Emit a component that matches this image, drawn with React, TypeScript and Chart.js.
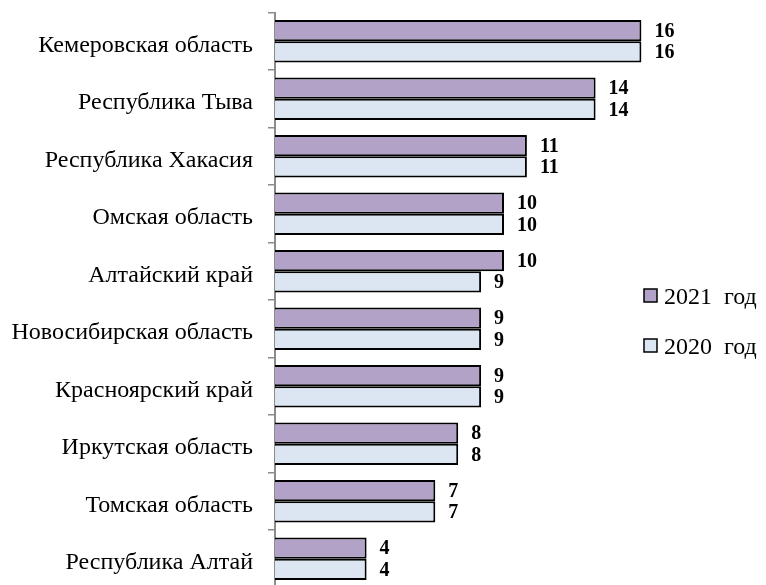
import React, { useEffect, useRef } from "react";
import { Chart, registerables } from "chart.js";

Chart.register(...registerables);

const categories = [
  "Кемеровская область",
  "Республика Тыва",
  "Республика Хакасия",
  "Омская область",
  "Алтайский край",
  "Новосибирская область",
  "Красноярский край",
  "Иркутская область",
  "Томская область",
  "Республика Алтай",
];
const values2021 = [16, 14, 11, 10, 10, 9, 9, 8, 7, 4];
const values2020 = [16, 14, 11, 10, 9, 9, 9, 8, 7, 4];
const seriesNames = ["2021  год", "2020  год"];
const seriesColors = ["#b3a2c7", "#dce6f2"];

const FONT = "'Liberation Serif', serif";

const valueLabels = {
  id: "valueLabels",
  afterDatasetsDraw(chart: any) {
    const ctx = chart.ctx;
    ctx.save();
    ctx.font = `bold 20px ${FONT}`;
    ctx.fillStyle = "#000";
    ctx.textAlign = "left";
    ctx.textBaseline = "middle";
    chart.data.datasets.forEach((ds: any, i: number) => {
      const meta = chart.getDatasetMeta(i);
      meta.data.forEach((bar: any, j: number) => {
        ctx.fillText(String(ds.data[j]), bar.x + 13, bar.y + 1);
      });
    });
    ctx.restore();
  },
};

const customLegend = {
  id: "customLegend",
  afterDraw(chart: any) {
    const ctx = chart.ctx;
    ctx.save();
    const x = 644;
    const ys = [297, 347];
    chart.data.datasets.forEach((ds: any, i: number) => {
      const y = ys[i];
      ctx.fillStyle = ds.backgroundColor;
      ctx.fillRect(x, y - 8, 13, 13);
      ctx.strokeStyle = "#000";
      ctx.lineWidth = 1.5;
      ctx.strokeRect(x, y - 8, 13, 13);
      ctx.fillStyle = "#000";
      ctx.font = `24px ${FONT}`;
      ctx.textAlign = "left";
      ctx.textBaseline = "middle";
      ctx.fillText(ds.label, x + 20, y + 1);
    });
    ctx.restore();
  },
};

export default function App() {
  const ref = useRef<HTMLCanvasElement | null>(null);
  useEffect(() => {
    if (!ref.current) return;
    const chart = new Chart(ref.current, {
      type: "bar",
      data: {
        labels: categories,
        datasets: [
          {
            label: seriesNames[0],
            data: values2021,
            backgroundColor: seriesColors[0],
            borderColor: "#000",
            borderWidth: 2,
            barPercentage: 1,
            categoryPercentage: 0.74,
          },
          {
            label: seriesNames[1],
            data: values2020,
            backgroundColor: seriesColors[1],
            borderColor: "#000",
            borderWidth: 2,
            barPercentage: 1,
            categoryPercentage: 0.74,
          },
        ],
      },
      options: {
        indexAxis: "y",
        animation: false,
        responsive: false,
        maintainAspectRatio: false,
        layout: { padding: { top: 12.5, bottom: 7.5, right: 33, left: 0 } },
        plugins: { legend: { display: false }, tooltip: { enabled: false } },
        scales: {
          x: { display: false, min: 0, max: 20 },
          y: {
            afterFit: (scale: any) => {
              scale.width = 275;
              scale.paddingTop = 0;
              scale.paddingBottom = 0;
            },
            grid: {
              display: true,
              drawOnChartArea: false,
              drawTicks: true,
              tickLength: 7,
              color: "#8c8c8c",
              lineWidth: 1.5,
              offset: true,
            },
            border: { display: true, color: "#8c8c8c", width: 2 },
            ticks: {
              padding: 15,
              labelOffset: 4,
              color: "#000",
              font: { family: FONT, size: 24 },
              autoSkip: false,
            },
          },
        },
      },
      plugins: [valueLabels, customLegend],
    });
    return () => chart.destroy();
  }, []);
  return (
    <div
      style={{
        position: "fixed",
        left: 0,
        top: 0,
        width: 766,
        height: 585,
        overflow: "hidden",
        background: "#fff",
      }}
    >
      <canvas ref={ref} width={766} height={595} style={{ width: 766, height: 595, display: "block" }} />
    </div>
  );
}
